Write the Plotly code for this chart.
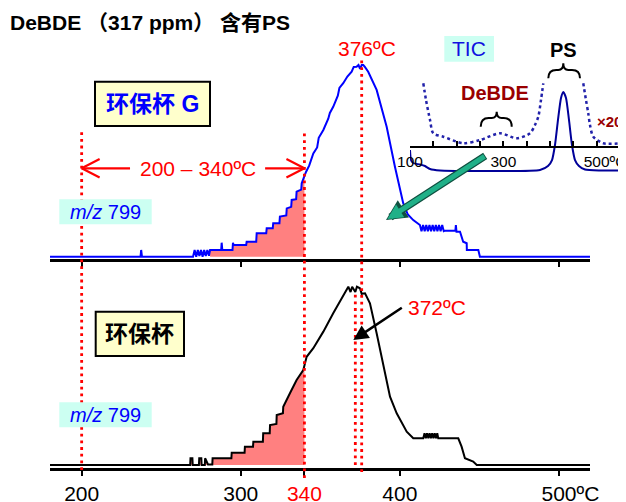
import numpy as np
import plotly.graph_objects as go

W, H = 626, 502
OFF = 8                      # page body margin of the html page
FW, FH = W - OFF, H - OFF    # figure size so that the figure fills the window
FONT = "Arial, 'Liberation Sans', 'Noto Sans CJK SC', sans-serif"

# ---------------- data ----------------
main_tick_vals = [200, 300, 340, 400, 500]
main_tick_text = ["200", "300", "<span style='color:red'>340</span>", "400",
                  "<span style='color:rgba(0,0,0,0)'>ºC</span>500ºC"]
top_tick_vals = [200, 300, 400, 500]

# 环保杯 G, m/z 799 (relative intensity, %)
g_temp = [180.1, 237.0, 237.4, 237.9, 270.0, 271.0, 272.0, 273.0, 274.0, 275.0,
          276.0, 277.0, 278.0, 279.0, 280.0, 280.7, 287.7, 288.0, 288.4, 294.8,
          295.1, 295.5, 303.4, 303.7, 309.7, 310.0, 316.0, 316.3, 320.1, 320.4,
          324.3, 324.6, 328.6, 328.9, 331.7, 332.0, 334.8, 335.1, 338.0, 338.3,
          341.0, 343.0, 345.6, 348.0, 349.0, 351.9, 355.0, 356.0, 358.1, 361.0,
          362.0, 364.4, 367.0, 369.7, 371.0, 372.8, 374.0, 375.0, 376.0, 377.0,
          378.0, 380.1, 385.4, 391.7, 396.9, 402.1, 405.0, 408.4, 412.6, 413.6,
          414.6, 415.6, 416.6, 417.6, 418.6, 419.6, 420.6, 421.6, 422.6, 423.6,
          424.6, 425.6, 426.6, 427.6, 428.4, 434.9, 435.2, 435.6, 437.8, 438.8,
          439.8, 442.0, 442.1, 449.3, 450.3, 519.5]
g_int = [0, 0, 3.5, 0, 0, 3.5, 0, 3.5, 0.3, 3.5,
         0, 3.5, 0.3, 3.5, 0.5, 3.5, 3.5, 7.3, 3.5, 3.5,
         7.3, 6.1, 6.1, 7.8, 7.8, 12.2, 12.2, 14.8, 14.8, 17.4,
         17.4, 20.9, 21.5, 25.2, 26.0, 29.6, 30.0, 33.9, 35.0, 38.3,
         44.2, 47.5, 53.9, 57.0, 62.0, 66.1, 72.0, 75.0, 78.2, 84.0,
         88.0, 90.5, 94.0, 96.5, 99.0, 99.1, 100, 98.0, 100, 100,
         99.0, 96.5, 87.0, 67.8, 46.9, 27.9, 22.0, 19.1, 16.5, 13.3,
         16.5, 13.3, 16.5, 13.3, 16.5, 13.3, 16.5, 13.3, 16.5, 13.3,
         16.5, 13.3, 16.5, 13.3, 13.6, 13.6, 16.5, 13.0, 13.0, 10.4,
         7.8, 7.0, 3.5, 3.5, 0, 0]

# 环保杯, m/z 799
p_temp = [180.1, 268.2, 268.4, 269.6, 269.8, 273.7, 273.9, 275.2, 275.4, 277.4,
          277.6, 279.4, 282.1, 282.3, 294.1, 294.3, 302.4, 302.6, 307.7, 307.9,
          313.9, 314.1, 318.2, 318.4, 322.4, 322.6, 326.5, 326.7, 330.9, 335.1,
          339.3, 341.4, 345.6, 351.9, 358.1, 362.4, 364.0, 366.0, 367.6, 369.0,
          370.0, 372.0, 373.0, 374.9, 376.0, 378.1, 381.2, 385.4, 389.6, 393.8,
          398.0, 404.3, 408.4, 414.7, 415.5, 416.3, 417.1, 417.9, 418.7, 419.5,
          420.3, 421.1, 421.9, 422.7, 423.5, 424.1, 436.7, 438.8, 440.9, 446.1,
          448.3, 519.5]
p_int = [0, 0, 3.8, 3.8, 0, 0, 3.8, 3.8, 0, 0,
         3.8, 0.3, 0.3, 3.8, 3.8, 6.9, 6.9, 10.3, 10.3, 13.1,
         13.1, 17.8, 17.8, 22.4, 23.0, 28.0, 29.0, 32.7, 40.2, 47.7,
         53.3, 60.7, 65.5, 74.8, 85.1, 91.6, 94.0, 97.0, 100, 97.0,
         100, 97.0, 100, 99.1, 96.0, 96.3, 90.7, 73.9, 57.0, 38.3,
         29.0, 18.7, 15.0, 15.0, 17.8, 15.0, 17.8, 15.0, 17.8, 15.0,
         17.8, 15.0, 17.8, 15.0, 17.8, 15.0, 15.0, 10.3, 3.8, 1.9,
         0, 0]

# inset TIC
tic_temp = [100, 102.1, 106.4, 121.4, 132.1, 142.9, 164.3, 250, 378.6, 395.7,
            404.3, 410.7, 417.1, 423.6, 428.5, 434.3, 440.7, 447.1, 453.6, 462.1,
            475, 507.1, 550]
tic_int = [26.6, 13.9, 10.1, 8.2, 6.3, 2.5, 0.6, 0, 1.3, 6.3,
           13.9, 32.9, 64.6, 92.4, 100, 92.4, 64.6, 32.9, 13.9, 6.3,
           1.9, 0.6, 0.6]
tic20_temp = [128.5, 134.3, 142.9, 149.9, 171.4, 214.2, 250, 292.8, 328.6, 357.1,
              367.8, 374.9, 380.7, 385.6, None, 471.3, 477.1, 482, 485.7, 492.8,
              514.2, 550]
tic20_int = [111, 89.9, 64.6, 47.7, 43.4, 35.1, 39.2, 47.7, 41.4, 47.7,
             58.2, 68.7, 89.9, 111, None, 111, 89.9, 73, 58.2, 43.4,
             35.1, 35.1]
inset_tick_vals = [100, 150, 200, 250, 300, 350, 400, 450, 500, 550]
inset_tick_text = ["100", "", "", "", "300", "", "", "",
                   "<span style='color:rgba(0,0,0,0)'>ºC</span>500ºC", ""]

range_lo, range_hi = 200, 340
peak_g, peak_p = 376, 372
fill_start_g, fill_start_p = 280.7, 268.2


def px(x):
    return (x - OFF) / FW


def py(y):
    return 1 - (y - OFF) / FH


def fill_xy(T, I, lo, hi):
    T = np.array(T, float)
    I = np.array(I, float)
    m = (T > lo) & (T < hi)
    xs = np.concatenate([[lo], T[m], [hi]])
    ys = np.concatenate([[np.interp(lo, T, I)], I[m], [np.interp(hi, T, I)]])
    return xs, ys


fig = go.Figure()
FILL = "#FF8080"

fx, fy = fill_xy(g_temp, g_int, fill_start_g, range_hi)
fig.add_trace(go.Scatter(x=fx, y=fy, fill="tozeroy", mode="lines", line=dict(width=0),
                         fillcolor=FILL, xaxis="x2", yaxis="y2", hoverinfo="skip"))
fx, fy = fill_xy(p_temp, p_int, fill_start_p, range_hi)
fig.add_trace(go.Scatter(x=fx, y=fy, fill="tozeroy", mode="lines", line=dict(width=0),
                         fillcolor=FILL, xaxis="x", yaxis="y", hoverinfo="skip"))

fig.add_trace(go.Scatter(x=g_temp, y=g_int, mode="lines", line=dict(color="#0000FF", width=2),
                         xaxis="x2", yaxis="y2"))
fig.add_trace(go.Scatter(x=p_temp, y=p_int, mode="lines", line=dict(color="black", width=2),
                         xaxis="x", yaxis="y"))

fig.add_trace(go.Scatter(x=tic20_temp, y=tic20_int, mode="lines", connectgaps=False,
                         line=dict(color="#2222AA", width=2.5, dash="dot", shape="spline", smoothing=0.8),
                         xaxis="x3", yaxis="y3"))
fig.add_trace(go.Scatter(x=tic_temp, y=tic_int, mode="lines",
                         line=dict(color="#000099", width=2, shape="spline", smoothing=0.6),
                         xaxis="x3", yaxis="y3"))

X_RANGE = [180.1, 519.5]
XDOM = [px(50), px(590)]

def yrange(base, b_px, t_px, s):
    return [(base - b_px) / s, (base - t_px) / s]

fig.update_layout(
    width=FW, height=FH, margin=dict(l=0, r=0, t=0, b=0, autoexpand=False),
    paper_bgcolor="white", plot_bgcolor="rgba(0,0,0,0)", showlegend=False,
    font=dict(family=FONT, color="black"),
    xaxis=dict(domain=XDOM, range=X_RANGE, anchor="y", showline=True, linecolor="black",
               linewidth=2.5, ticks="outside", ticklen=5, tickwidth=2, tickcolor="black",
               tickvals=main_tick_vals, ticktext=main_tick_text, ticklabeloverflow="allow",
               tickfont=dict(size=21, color="black", family=FONT),
               showgrid=False, zeroline=False, automargin=False),
    yaxis=dict(domain=[py(468.1), py(275)], range=yrange(465, 468.1, 275, 1.783), visible=False),
    xaxis2=dict(domain=XDOM, range=X_RANGE, anchor="y2", showline=True, linecolor="black",
                linewidth=2.5, ticks="outside", ticklen=5, tickwidth=2, tickcolor="black",
                tickvals=top_tick_vals, showticklabels=False, showgrid=False, zeroline=False),
    yaxis2=dict(domain=[py(258.8), py(55)], range=yrange(256.7, 258.8, 55, 1.917), visible=False),
    xaxis3=dict(domain=[px(410), px(620)], range=[100, 550], anchor="free", position=py(147.3),
                showline=True, linecolor="black", linewidth=2, ticks="inside", ticklen=5,
                tickwidth=1.5, tickcolor="black", tickvals=inset_tick_vals, ticktext=inset_tick_text,
                ticklabeloverflow="allow",
                tickfont=dict(size=15.5, color="black", family=FONT),
                showgrid=False, zeroline=False, automargin=False),
    yaxis3=dict(domain=[py(176), py(80)], range=yrange(171, 176, 80, 0.79), visible=False, anchor="x3"),
)

shapes = []
DOT = dict(color="red", width=2.8, dash="2.8px,3.9px")
for xv, y0, y1 in [(range_lo, 131, 470), (range_hi, 131, 478), (peak_g, 60, 472), (peak_p, 292, 465)]:
    shapes.append(dict(type="line", xref="x", yref="paper", x0=xv, x1=xv, y0=py(y1), y1=py(y0), line=DOT))

# boxes
shapes.append(dict(type="rect", xref="paper", yref="paper", x0=px(95), x1=px(210), y0=py(126), y1=py(81.7),
                   fillcolor="#FFFFCC", line=dict(color="black", width=2)))
shapes.append(dict(type="rect", xref="paper", yref="paper", x0=px(95.7), x1=px(184), y0=py(356), y1=py(311.7),
                   fillcolor="#FFFFCC", line=dict(color="black", width=2)))
CYAN = "#CCFFF2"
for (x0, y0, x1, y1) in [(59.3, 199.3, 151.7, 224.3), (59.3, 402.3, 151.7, 427.3), (444.3, 36, 494, 61.7)]:
    shapes.append(dict(type="rect", xref="paper", yref="paper", x0=px(x0), x1=px(x1), y0=py(y1), y1=py(y0),
                       fillcolor=CYAN, line=dict(width=0)))

# double arrow 200-340
ARW = dict(color="red", width=2.2)
ya = (256.7 - 168.3) / 1.917
for seg in [((range_lo, ya), (230.4, ya)), ((315.3, ya), (range_hi, ya)),
            ((range_lo, ya), (range_lo + 11.3, ya + 4.8)), ((range_lo, ya), (range_lo + 11.3, ya - 4.8)),
            ((range_hi, ya), (range_hi - 11.3, ya + 4.8)), ((range_hi, ya), (range_hi - 11.3, ya - 4.8))]:
    (a, b), (c, d) = seg
    shapes.append(dict(type="line", xref="x2", yref="y2", x0=a, y0=b, x1=c, y1=d, line=ARW))


def brace(x0, x1, xt, yend, ymid, ytip):
    r = 8
    pts = (f"M {px(x0)},{py(yend)} Q {px(x0)},{py(ymid)} {px(x0 + r)},{py(ymid)} "
           f"L {px(xt - 5)},{py(ymid)} Q {px(xt)},{py(ymid)} {px(xt)},{py(ytip)} "
           f"Q {px(xt)},{py(ymid)} {px(xt + 5)},{py(ymid)} "
           f"L {px(x1 - r)},{py(ymid)} Q {px(x1)},{py(ymid)} {px(x1)},{py(yend)}")
    return dict(type="path", xref="paper", yref="paper", path=pts, line=dict(color="black", width=2))

shapes.append(brace(548.3, 580, 563.3, 78.3, 70, 63.3))
shapes.append(brace(480.7, 511.7, 496.7, 126.7, 118, 111.7))

fig.update_layout(shapes=shapes)

ann = []

def txt(x, y, t, size, color, xanchor="center"):
    ann.append(dict(x=px(x), y=py(y), xref="paper", yref="paper", text=t, showarrow=False,
                    xanchor=xanchor, yanchor="middle", font=dict(size=size, color=color, family=FONT)))

txt(8, 22, "<b>DeBDE （317 ppm） 含有PS</b>", 21, "black", "left")
txt(152.5, 104, "<b>环保杯 G</b>", 23, "#0000FF")
txt(139.8, 333.8, "<b>环保杯</b>", 23, "black")
txt(105.5, 211.8, "<i>m/z</i> 799", 20, "#0000FF")
txt(105.5, 414.8, "<i>m/z</i> 799", 20, "#0000FF")
txt(469, 49, "TIC", 21, "#1010E0")
txt(563.3, 50.5, "<b>PS</b>", 20, "black")
txt(495, 93.3, "<b>DeBDE</b>", 20, "#990000")
txt(609, 121.7, "<b>×20</b>", 15, "#990000")
txt(197.5, 168.3, "200 – 340ºC", 21, "red")
txt(366.7, 49, "376ºC", 21, "red")
txt(436.7, 307, "372ºC", 21, "red")

# black arrow to 372
ann.append(dict(x=px(353.3), y=py(340), xref="paper", yref="paper", text="", showarrow=True,
                ax=50, ay=-33.3, arrowhead=2, arrowsize=1.2, arrowwidth=2.5, arrowcolor="black", standoff=0))
# green arrow (outline + fill)
ann.append(dict(x=px(386), y=py(220), xref="paper", yref="paper", text="", showarrow=True,
                ax=100.7, ay=-65, arrowhead=2, arrowsize=0.55, arrowwidth=7.5, arrowcolor="#0F5040", standoff=0))
ann.append(dict(x=px(387.5), y=py(219), xref="paper", yref="paper", text="", showarrow=True,
                ax=98.5, ay=-63.5, arrowhead=2, arrowsize=0.6, arrowwidth=5, arrowcolor="#20B088", standoff=0))

fig.update_layout(annotations=ann)
fig.write_html("out.html")
